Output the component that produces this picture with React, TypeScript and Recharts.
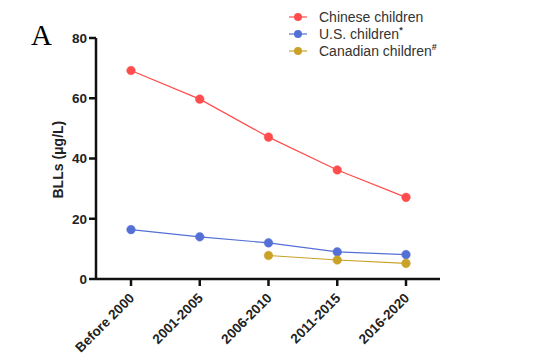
import { LineChart, Line, XAxis, YAxis } from 'recharts'

const periods = ['Before 2000', '2001-2005', '2006-2010', '2011-2015', '2016-2020']
const chinese = [69.2, 59.7, 47.1, 36.2, 27.1]
const us = [16.4, 14.0, 12.0, 9.0, 8.1]
const canadian: (number | null)[] = [null, null, 7.8, 6.3, 5.2]
const yTicks = [0, 20, 40, 60, 80]

const series = [
  { key: 'cn', name: 'Chinese children', sup: '', color: '#FF4D4D' },
  { key: 'us', name: 'U.S. children', sup: '*', color: '#5470D6' },
  { key: 'ca', name: 'Canadian children', sup: '#', color: '#C9A227' },
]

const data = periods.map((p, i) => ({ p, cn: chinese[i], us: us[i], ca: canadian[i] }))

const font = '"Liberation Sans", Arial, sans-serif'

const XTick = ({ x, y, payload }: any) => (
  <text x={x + 4} y={y + 11} transform={`rotate(-45 ${x + 4} ${y + 11})`} textAnchor="end"
    fontSize={13.5} fontWeight="bold" fill="#222" fontFamily={font}>{payload.value}</text>
)

const LegendBox = () => (
  <div style={{ position: 'absolute', left: 287, top: 8, fontFamily: font, fontSize: 14, color: '#333' }}>
    {series.map(s => (
      <div key={s.key} style={{ display: 'flex', alignItems: 'center', height: 17 }}>
        <svg width={24} height={12} style={{ marginRight: 8 }}>
          <line x1={2} y1={6} x2={20} y2={6} stroke={s.color} strokeWidth={1.2} />
          <circle cx={11} cy={6} r={4} fill={s.color} />
        </svg>
        <span>{s.name}{s.sup && <sup style={{ fontSize: 9, fontWeight: 'bold' }}>{s.sup}</sup>}</span>
      </div>
    ))}
  </div>
)

export default function App() {
  return (
    <div style={{ position: 'absolute', left: 0, top: 0, width: 535, height: 364, background: '#fff' }}>
      <div style={{ position: 'absolute', left: 31, top: 19, fontFamily: '"Liberation Serif", serif', fontSize: 29 }}>A</div>
      <LegendBox />
      <LineChart width={535} height={364} data={data} margin={{ top: 38, right: 95, bottom: 0, left: 0 }}>
        <XAxis dataKey="p" padding={{ left: 35, right: 34 }} height={85} interval={0}
          axisLine={{ stroke: '#111', strokeWidth: 2.5 }} tickLine={{ stroke: '#111', strokeWidth: 2.5 }}
          tickSize={7} tick={<XTick />} />
        <YAxis domain={[0, 80]} ticks={yTicks} width={96} tickSize={7} tickMargin={2}
          axisLine={{ stroke: '#111', strokeWidth: 2.5 }} tickLine={{ stroke: '#111', strokeWidth: 2.5 }}
          tick={{ fontSize: 13.5, fontWeight: 'bold', fill: '#222', fontFamily: font }}
          label={{ value: 'BLLs (μg/L)', angle: -90, position: 'insideLeft', offset: 58, dy: 40,
            style: { fontSize: 14, fontWeight: 'bold', fill: '#222', fontFamily: font } }} />
        {series.map(s => (
          <Line key={s.key} dataKey={s.key} name={s.name} stroke={s.color} strokeWidth={1.2}
            dot={{ r: 4.3, fill: s.color, stroke: s.color, strokeWidth: 0.5 }} isAnimationActive={false} />
        ))}
      </LineChart>
    </div>
  )
}
